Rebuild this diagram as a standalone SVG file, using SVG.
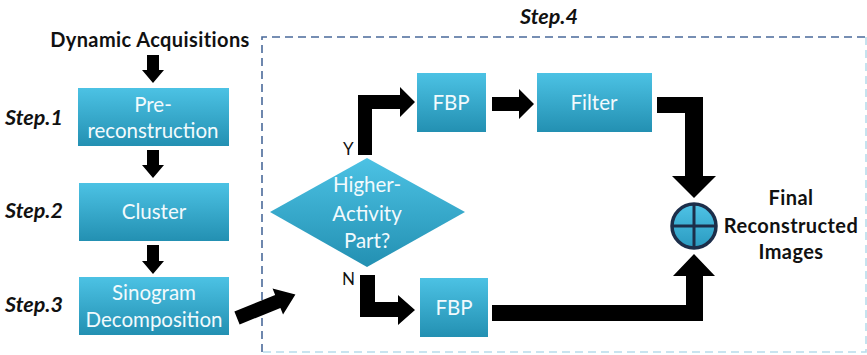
<svg xmlns="http://www.w3.org/2000/svg" width="867" height="355" viewBox="0 0 867 355">
<defs>
<linearGradient id="g" x1="0" y1="0" x2="0" y2="1">
<stop offset="0" stop-color="#4cc2e4"/>
<stop offset="1" stop-color="#2390b2"/>
</linearGradient>
<linearGradient id="gc" x1="0" y1="0" x2="0" y2="1">
<stop offset="0" stop-color="#4fc3e6"/>
<stop offset="1" stop-color="#2a9ac0"/>
</linearGradient>
</defs>
<style>
.box{fill:url(#g);}
.bt{font-family:Lato,"Liberation Sans",sans-serif;font-size:20.5px;fill:#f2fafd;text-anchor:middle;}
.lbl{font-family:Lato,"Liberation Sans",sans-serif;font-size:20px;font-weight:bold;fill:#111;text-anchor:middle;letter-spacing:0.4px;}
.step{font-family:Lato,"Liberation Sans",sans-serif;font-size:21.5px;font-weight:bold;font-style:italic;fill:#111;}
.yn{font-family:Lato,"Liberation Sans",sans-serif;font-size:17px;fill:#111;}
.arr{fill:#000;}
</style>
<rect width="867" height="355" fill="#fff"/>
<path d="M262,352 V37 H866" fill="none" stroke="#4a6a9a" stroke-width="1.6" stroke-dasharray="8,5"/>
<path d="M866,37 V352 H262" fill="none" stroke="#b8dcec" stroke-width="1.6" stroke-dasharray="8,5"/>
<text class="lbl" x="150" y="47">Dynamic Acquisitions</text>
<text class="step" x="5" y="125">Step.1</text>
<text class="step" x="5" y="218">Step.2</text>
<text class="step" x="5" y="312">Step.3</text>
<text class="step" x="520" y="24">Step.4</text>
<g id="pre"><rect class="box" x="78" y="88" width="151" height="58"/><text class="bt" x="153" y="112">Pre-</text><text class="bt" x="153" y="138">reconstruction</text></g>
<g id="cluster"><rect class="box" x="79" y="183" width="150" height="58"/><text class="bt" x="154" y="219">Cluster</text></g>
<g id="sino"><rect class="box" x="79" y="277" width="150" height="58"/><text class="bt" x="154" y="300">Sinogram</text><text class="bt" x="154" y="327">Decomposition</text></g>
<g id="decision"><polygon fill="url(#g)" points="367,158 465,212 367,267 270,212"/><text class="bt" x="367" y="192">Higher-</text><text class="bt" x="367" y="221">Activity</text><text class="bt" x="367" y="248">Part?</text></g>
<g id="fbp1"><rect class="box" x="417" y="73" width="69" height="59"/><text class="bt" x="451" y="110">FBP</text></g>
<g id="filter"><rect class="box" x="537" y="73" width="115" height="59"/><text class="bt" x="594" y="110">Filter</text></g>
<g id="fbp2"><rect class="box" x="420" y="278" width="68" height="59"/><text class="bt" x="454" y="315">FBP</text></g>
<g id="sum"><circle cx="694" cy="226" r="22" fill="url(#gc)" stroke="#1c2e4a" stroke-width="3.5"/><path d="M694,204 V248 M672,226 H716" stroke="#1c2e4a" stroke-width="3"/></g>
<g id="final"><text class="lbl" x="791" y="205">Final</text><text class="lbl" x="791" y="233">Reconstructed</text><text class="lbl" x="791" y="259">Images</text></g>
<g id="connectors">
<polygon class="arr" points="147,55 159,55 159,70 164,70 153,83 142,70 147,70"/>
<polygon class="arr" points="147,150 159,150 159,165 164,165 153,178 142,165 147,165"/>
<polygon class="arr" points="147,245 159,245 159,261 164,261 153,274 142,261 147,261"/>
<polygon class="arr" transform="translate(237,318) rotate(-22)" points="0,-7 44,-7 44,-14 63,0 44,14 44,7 0,7"/>
<polygon class="arr" points="358,155 358,95 400,95 400,87 415,102 400,117 400,109 372,109 372,155"/>
<polygon class="arr" points="492,97 519,97 519,89 534,104 519,119 519,111 492,111"/>
<polygon class="arr" points="657,97 703,97 703,176 716,176 694,198 672,176 685,176 685,113 657,113"/>
<polygon class="arr" points="360,275 375,275 375,302 398,302 398,295 415,310 398,325 398,317 360,317"/>
<polygon class="arr" points="492,305 686,305 686,276 673,276 694,254 715,276 703,276 703,321 492,321"/>
</g>
<text class="yn" x="343" y="155">Y</text>
<text class="yn" x="342" y="285">N</text>
</svg>
